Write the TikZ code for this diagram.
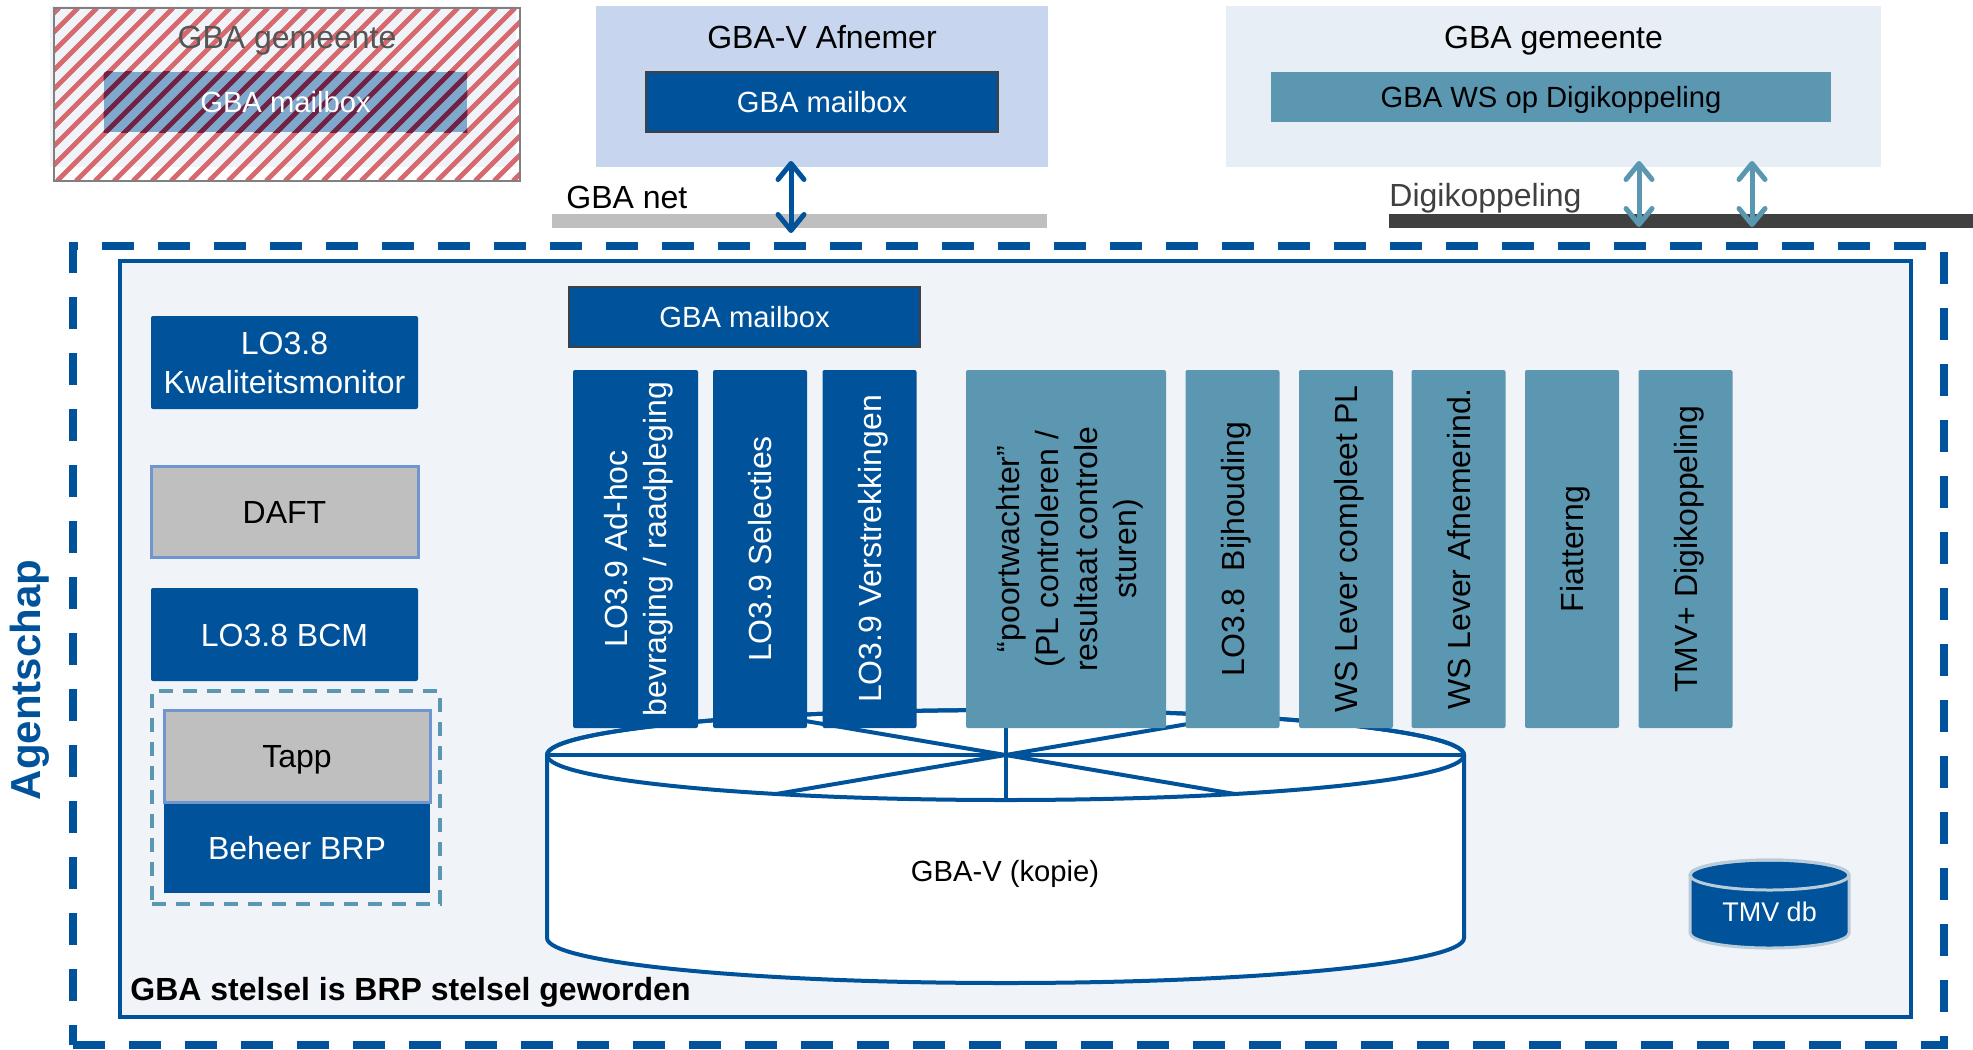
\documentclass[tikz,border=0pt]{standalone}
\usepackage{fontspec}
\setmainfont{Liberation Sans}
\usetikzlibrary{arrows.meta}

\definecolor{dblue}{RGB}{0,83,155}
\definecolor{teal2}{RGB}{91,151,177}
\definecolor{bgin}{RGB}{240,244,248}
\definecolor{afbg}{RGB}{199,214,238}
\definecolor{gmbg}{RGB}{231,238,245}
\definecolor{gbar}{RGB}{191,191,191}
\definecolor{dbar}{RGB}{64,64,64}
\definecolor{dgrey}{RGB}{191,191,191}
\definecolor{lbord}{RGB}{112,150,208}
\definecolor{tmvb}{RGB}{184,204,218}
\definecolor{hred}{RGB}{214,104,110}
\definecolor{hmar}{RGB}{110,34,68}
\definecolor{hbox}{RGB}{127,168,205}
\definecolor{tgray}{RGB}{85,85,85}

\begin{document}
\begin{tikzpicture}[x=0.5pt, y=-0.5pt,
  f16/.style={font=\fontsize{16pt}{19.5pt}\selectfont, text height=11.5pt, text depth=0pt},
  f15/.style={font=\fontsize{14.6pt}{18pt}\selectfont, text height=10.5pt, text depth=0pt},
  lbl/.style={inner sep=0pt, font=\fontsize{16pt}{19.5pt}\selectfont},
  darkbox/.style={fill=dblue, text=white, rounded corners=1pt, inner sep=0pt, f16, align=center},
  tealbox/.style={fill=teal2, text=black, rounded corners=1pt, inner sep=0pt, f16, align=center},
  greybox/.style={fill=dgrey, draw=lbord, line width=1.5pt, text=black, inner sep=0pt, f16, align=center},
  col/.style={rotate=90, minimum width=179pt, align=center},
  twolines/.style={text height=31pt, text depth=0pt},
  fourlines/.style={text height=70pt, text depth=0pt},
  mailbox/.style={fill=dblue, draw=dbar, line width=0.75pt, text=white, inner sep=0pt, f15},
  plain/.style={inner sep=0pt},
  dbl/.style={line width=2.5pt, {Straight Barb[length=8pt,width=13pt,round]}-{Straight Barb[length=8pt,width=13pt,round]}},
  cyl/.style={draw=dblue, line width=2pt},
]
\useasboundingbox (0,0) rectangle (1973,1049);

% ---------- old GBA gemeente (hatched) ----------
\node[plain, fill=white, minimum width=233pt, minimum height=86.5pt] (oldgem) at (287,94.5) {};
\fill[bgin] (50,6) rectangle (516,167);
\node[plain, fill=hbox, minimum width=181.5pt, minimum height=30pt] (oldmb) at (285.5,102) {};
\begin{scope}
  \clip (oldgem.south west) rectangle (oldgem.north east);
  \foreach \s in {-190,-171,...,530} \draw[hred, line width=2.4pt] (\s,181) -- ++(173,-173);
\end{scope}
\begin{scope}
  \clip (oldmb.south west) rectangle (oldmb.north east);
  \foreach \s in {-190,-171,...,530} \draw[hmar, line width=2.4pt] (\s,181) -- ++(173,-173);
\end{scope}
\draw[gray, line width=1pt] (oldgem.south west) rectangle (oldgem.north east);
\node[lbl, text=tgray, anchor=base] (oldgemt) at (287,48) {GBA gemeente};
\node[plain, f15, text=white] (oldmbt) at (285.5,102) {GBA mailbox};

% ---------- GBA-V Afnemer ----------
\node[plain, fill=afbg, minimum width=226pt, minimum height=80.5pt] (afn) at (822,86.5) {};
\node[lbl, anchor=base] (afnt) at (822,48) {GBA-V Afnemer};
\node[mailbox, minimum width=176pt, minimum height=30pt] (afnmb) at (822,102) {GBA mailbox};

% GBA net
\node[plain, fill=gbar, minimum width=247.5pt, minimum height=7pt] (gbanet) at (799.5,221) {};
\node[lbl, anchor=base west] (gbanett) at (566,208) {GBA net};
\coordinate (a1t) at (791,161);
\coordinate (a1b) at (791,233);
\draw[dbl, dblue] (a1t) -- (a1b);

% ---------- GBA gemeente (right) ----------
\node[plain, fill=gmbg, minimum width=327.5pt, minimum height=80.5pt] (gem) at (1553.5,86.5) {};
\node[lbl, anchor=base] (gemt) at (1553.5,48) {GBA gemeente};
\node[plain, fill=teal2, minimum width=280pt, minimum height=25pt, f15] (ws) at (1551,97) {GBA WS op Digikoppeling};

% Digikoppeling
\node[plain, fill=dbar, minimum width=292pt, minimum height=7pt] (digibar) at (1681,221) {};
\node[lbl, anchor=base west, text=dbar] (digit) at (1389,206) {Digikoppeling};
\coordinate (a2t) at (1639,161);
\coordinate (a2b) at (1639,227);
\coordinate (a3t) at (1752,161);
\coordinate (a3b) at (1752,227);
\draw[dbl, teal2] (a2t) -- (a2b);
\draw[dbl, teal2] (a3t) -- (a3b);

% ---------- Agentschap ----------
\node[plain, draw=dblue, line width=3.75pt, dash pattern=on 16pt off 12pt, minimum width=935.5pt, minimum height=399.5pt] (agent) at (1008.5,645.5) {};
\node[plain, fill=bgin, draw=dblue, line width=2pt, minimum width=895.5pt, minimum height=378pt] (stelsel) at (1015.5,639) {};
\node[plain, rotate=90, text=dblue, font=\bfseries\fontsize{21pt}{25pt}\selectfont] (agt) at (30,680) {Agentschap};

% left column
\node[darkbox, twolines, minimum width=133.5pt, minimum height=46.5pt] (kwal) at (284.5,362.5) {LO3.8\\Kwaliteitsmonitor};
\node[greybox, minimum width=133.5pt, minimum height=45.5pt] (daft) at (284.5,511.5) {DAFT};
\node[darkbox, minimum width=133.5pt, minimum height=46.5pt] (bcm) at (284.5,634.5) {LO3.8 BCM};
\node[plain, draw=teal2, line width=1.75pt, dash pattern=on 7pt off 5pt, minimum width=144pt, minimum height=106.5pt] (grp) at (296,797.5) {};
\node[darkbox, rounded corners=0pt, minimum width=133pt, minimum height=45.5pt] (beheer) at (297,847.5) {Beheer BRP};
\node[greybox, minimum width=133pt, minimum height=46pt] (tapp) at (297,756) {Tapp};

% inner GBA mailbox
\node[mailbox, minimum width=175.5pt, minimum height=30pt] (mb) at (744.5,317) {GBA mailbox};

% ---------- cylinder GBA-V (kopie) ----------
\coordinate (ct) at (1005.5,755);
\coordinate (cb) at (1005.5,938);
\path[cyl, fill=white] (547,755) -- (547,938)
   arc[start angle=180, end angle=360, x radius=229.25pt, y radius=22.5pt]
   -- (1464,755)
   arc[start angle=0, end angle=180, x radius=229.25pt, y radius=22.5pt] -- cycle;
\draw[cyl] (ct) ellipse[x radius=229.25pt, y radius=22.5pt];
\draw[cyl] ([shift={(0:229.25pt and 22.5pt)}]ct) -- ([shift={(180:229.25pt and 22.5pt)}]ct);
\draw[cyl] ([shift={(90:229.25pt and 22.5pt)}]ct) -- ([shift={(270:229.25pt and 22.5pt)}]ct);
\draw[cyl] ([shift={(60:229.25pt and 22.5pt)}]ct) -- ([shift={(240:229.25pt and 22.5pt)}]ct);
\draw[cyl] ([shift={(120:229.25pt and 22.5pt)}]ct) -- ([shift={(300:229.25pt and 22.5pt)}]ct);
\node[plain, f15] (gbav) at (1005,871) {GBA-V (kopie)};

% ---------- columns ----------
\node[darkbox, col, twolines, minimum height=62.5pt] (c1) at (635.5,549) {LO3.9 Ad-hoc\\bevraging / raadpleging};
\node[darkbox, col, minimum height=47pt] (c2) at (760,549) {LO3.9 Selecties};
\node[darkbox, col, minimum height=47pt] (c3) at (869.5,549) {LO3.9 Verstrekkingen};
\node[tealbox, col, fourlines, minimum height=100pt] (c4) at (1066,549) {“poortwachter”\\(PL controleren /\\resultaat controle\\sturen)};
\node[tealbox, col, minimum height=47pt] (c5) at (1232.5,549) {LO3.8\ \ Bijhouding};
\node[tealbox, col, minimum height=47pt] (c6) at (1346,549) {WS Lever compleet PL};
\node[tealbox, col, minimum height=47pt] (c7) at (1458.5,549) {WS Lever Afnemerind.};
\node[tealbox, col, minimum height=47pt] (c8) at (1572,549) {Fiatterng};
\node[tealbox, col, minimum height=47pt] (c9) at (1685.5,549) {TMV+ Digikoppeling};

% ---------- TMV db ----------
\coordinate (tt) at (1769.5,875);
\path[draw=tmvb, line width=1.5pt, fill=dblue] (1690,875) -- (1690,933)
   arc[start angle=180, end angle=360, x radius=39.75pt, y radius=7.5pt]
   -- (1849,875)
   arc[start angle=0, end angle=180, x radius=39.75pt, y radius=7.5pt] -- cycle;
\draw[tmvb, line width=1.5pt] (tt) ellipse[x radius=39.75pt, y radius=7.5pt];
\node[plain, text=white, font=\fontsize{13.5pt}{16pt}\selectfont, text height=9.7pt, text depth=0pt] (tmv) at (1769.5,912) {TMV db};

% footer
\node[lbl, anchor=base west, font=\bfseries\fontsize{16pt}{19pt}\selectfont] (foot) at (130,1000) {GBA stelsel is BRP stelsel geworden};
\end{tikzpicture}
\end{document}
